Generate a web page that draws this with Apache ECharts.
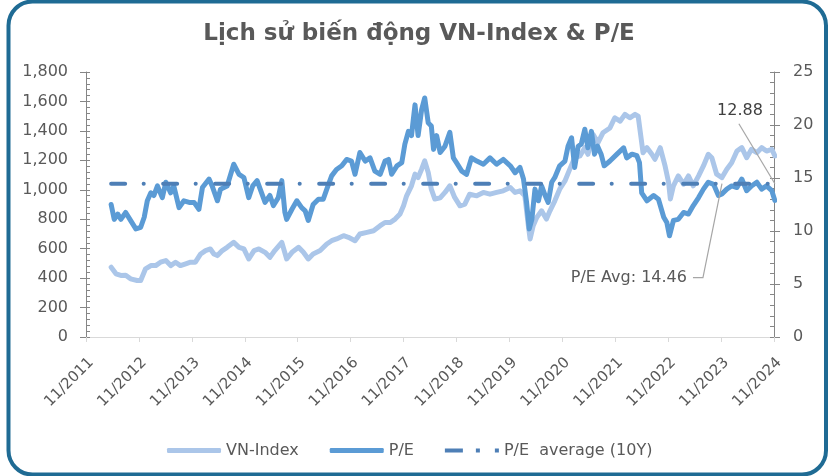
<!DOCTYPE html>
<html>
<head>
<meta charset="utf-8">
<title>Lịch sử biến động VN-Index & P/E</title>
<script src="https://cdn.jsdelivr.net/npm/echarts@6/dist/echarts.min.js"></script>
<style>
  html, body { margin: 0; padding: 0; background: #fff; }
  #chart { width: 838px; height: 476px; }
</style>
</head>
<body>
<div id="chart"></div>
<script>
/** 数据 */
// 横轴: 从 11/2011 起的月数
const xTickLabels = ['11/2011', '11/2012', '11/2013', '11/2014', '11/2015', '11/2016', '11/2017',
  '11/2018', '11/2019', '11/2020', '11/2021', '11/2022', '11/2023', '11/2024'];

const vnMonth = [5.7, 6.8, 7.9, 9.0, 10.1, 11.6, 12.4, 13.5, 14.7, 15.8, 16.9, 18.1, 19.2, 20.3, 21.4, 22.6,
  23.7, 24.8, 26.0, 27.1, 28.2, 29.0, 29.8, 30.9, 32.0, 33.5, 34.7, 35.8, 36.9, 38.1, 39.2, 40.6,
  41.7, 42.8, 44.4, 45.5, 46.7, 48.2, 49.3, 50.4, 51.5, 53.1, 54.6, 55.7, 56.8, 58.4, 59.5, 61.0,
  62.1, 63.7, 65.2, 66.7, 67.8, 69.0, 70.1, 71.2, 72.0, 72.7, 73.8, 74.6, 75.3, 76.1, 76.8, 77.6,
  78.3, 79.1, 80.3, 81.4, 82.5, 83.6, 84.8, 85.9, 87.0, 88.6, 90.1, 91.6, 93.1, 94.6, 96.2, 97.3,
  98.4, 99.5, 100.3, 100.7, 101.4, 102.2, 103.3, 104.4, 105.2, 106.3, 107.4, 108.6, 109.7, 110.8,
  112.0, 113.1, 113.8, 115.0, 116.1, 117.2, 118.8, 119.9, 121.1, 122.2, 123.3, 124.5, 125.2, 125.8,
  126.3, 127.2, 128.3, 129.0, 130.2, 131.3, 132.1, 132.5, 133.2, 134.3, 135.5, 136.6, 137.7, 138.9,
  140.0, 141.1, 141.9, 143.0, 144.2, 145.3, 146.4, 147.6, 148.7, 149.8, 150.9, 152.1, 153.2, 154.3,
  155.5, 156.2];
const vnValue = [474, 429, 418, 420, 395, 384, 384, 463, 485, 485, 508, 519, 485, 508, 485, 497,
  508, 508, 564, 587, 598, 564, 553, 587, 609, 643, 609, 598, 530, 587, 598, 575,
  541, 587, 643, 530, 575, 609, 575, 530, 564, 587, 632, 654, 666, 688, 677, 654,
  700, 711, 722, 756, 778, 778, 801, 835, 891, 959, 1027, 1106, 1083, 1140, 1196, 1117,
  1004, 937, 945, 982, 1027, 948, 891, 903, 970, 959, 982, 970, 982, 993, 1015, 982,
  993, 959, 756, 666, 756, 812, 857, 801, 857, 925, 1004, 1060, 1140, 1218,
  1230, 1286, 1241, 1376, 1320, 1387, 1420, 1489, 1466, 1512, 1489, 1512, 1500, 1365,
  1252, 1286, 1241, 1207, 1286, 1162, 1049, 937, 1027, 1094, 1038, 1094, 1027, 1094,
  1162, 1241, 1218, 1106, 1083, 1140, 1184, 1263, 1286, 1218, 1275, 1252, 1286, 1263,
  1275, 1230];

const peMonth = [5.7, 6.4, 7.2, 7.9, 9.0, 10.1, 11.3, 12.4, 13.2, 13.9, 14.7, 15.4, 16.2, 17.3, 18.1, 19.2,
  19.9, 21.1, 22.2, 23.4, 24.5, 25.6, 26.4, 27.9, 28.6, 29.8, 30.5, 32.0, 33.5, 34.7, 35.8, 36.9,
  37.8, 38.8, 39.5, 40.6, 41.7, 42.5, 43.6, 44.4, 45.1, 45.5, 46.7, 47.8, 48.9, 49.7, 50.4, 51.5,
  52.7, 53.8, 54.6, 55.7, 56.8, 58.0, 59.1, 60.2, 61.0, 62.1, 63.3, 64.4, 65.5, 66.7, 67.8, 68.6,
  69.3, 70.5, 71.6, 72.3, 73.1, 73.8, 74.6, 75.3, 76.1, 76.8, 77.6, 78.3, 78.8, 79.5, 80.3, 81.4,
  82.5, 83.3, 84.0, 85.2, 86.3, 87.4, 88.6, 90.1, 91.6, 93.1, 94.6, 96.2, 97.3, 98.4, 99.2, 99.9,
  100.5, 101.1, 101.8, 102.6, 103.3, 104.1, 104.8, 105.6, 106.3, 107.4, 108.6, 109.3, 110.1, 110.8,
  111.6, 112.3, 113.1, 113.8, 114.6, 115.3, 116.0, 116.8, 117.5, 118.8, 120.4, 121.9, 122.6, 123.8,
  124.9, 125.5, 126.0, 127.2, 128.7, 129.8, 131.0, 131.7, 132.3, 133.2, 134.3, 135.5, 136.6, 137.7,
  138.9, 140.0, 141.1, 142.3, 143.4, 144.2, 145.3, 146.4, 147.6, 148.7, 149.8, 150.9, 152.1, 153.2,
  154.3, 155.5, 156.2];
const peValue = [12.5, 11.1, 11.6, 11.1, 11.75, 11.0, 10.2, 10.35, 11.3, 12.85, 13.6, 13.35, 14.25, 13.15, 14.6, 13.6,
  14.25, 12.2, 12.85, 12.7, 12.7, 12.05, 14.1, 14.9, 14.25, 12.85, 13.95, 14.25, 16.3, 15.35, 15.05, 13.15,
  14.25, 14.75, 13.95, 12.7, 13.35, 12.4, 13.15, 14.75, 11.75, 11.1, 12.05, 12.85, 12.2, 11.9, 11.0, 12.5,
  13.0, 13.0, 13.95, 15.2, 15.8, 16.15, 16.75, 16.6, 15.35, 17.4, 16.6, 16.9, 15.65, 15.35, 16.6, 16.75,
  15.35, 16.15, 16.45, 18.2, 19.4, 19.0, 21.9, 19.0, 21.45, 22.55, 20.2, 19.9, 17.7, 19.0, 17.4, 18.0,
  19.3, 16.9, 16.45, 15.65, 15.35, 16.9, 16.6, 16.3, 16.9, 16.3, 16.75, 16.15, 15.5, 16.0, 14.9, 12.7,
  10.2, 11.1, 13.95, 12.85, 14.25, 13.35, 12.7, 14.6, 15.05, 16.15, 16.6, 18.0, 18.8, 16.0,
  18.0, 18.2, 19.6, 17.85, 19.4, 17.25, 18.0, 17.25, 16.15, 16.6, 17.25, 17.85, 16.9, 17.25,
  17.1, 16.45, 13.6, 12.85, 13.35, 13.0, 11.3, 10.8, 9.55, 11.0, 11.1, 11.75, 11.6, 12.4,
  13.15, 13.95, 14.6, 14.4, 13.35, 13.5, 13.95, 14.25, 14.1, 14.9, 13.8, 14.25, 14.6, 13.95,
  14.25, 13.8, 12.88];

const peAvg = 14.46;          // P/E trung bình 10 năm
const peAvgLabelMonth = 144.2; // điểm chú thích trên đường trung bình

/** 图表 */
const FONT = 'DejaVu Sans';
const TEXT_COLOR = '#595959';
const AXIS_COLOR = '#868686';
const VN_COLOR = '#abc6e9';
const PE_COLOR = '#5b9bd5';
const AVG_COLOR = '#4e7fb6';

const vnData = vnMonth.map((m, i) => [m, vnValue[i]]);
const peData = peMonth.map((m, i) => [m, peValue[i]]);
const avgData = [[peMonth[0], peAvg], [peMonth[peMonth.length - 1], peAvg]];

let myChart = echarts.init(document.getElementById('chart'), null, {renderer: 'canvas'});

// 左右轴的叠加轴: 主刻度向外 + 内侧短刻度与次刻度, 拼出穿过轴线的刻度
function overlayAxis(position, max, interval, split) {
  return {
    type: 'value', position: position, min: 0, max: max, interval: interval,
    axisLine: {show: false},
    axisLabel: {show: false},
    splitLine: {show: false},
    axisTick: {show: true, inside: true, length: 4, lineStyle: {color: AXIS_COLOR}},
    minorTick: {show: true, splitNumber: split, length: 4, lineStyle: {color: AXIS_COLOR}}
  };
}

let option = {
  backgroundColor: '#fff',
  animation: false,
  title: {
    text: 'Lịch sử biến động VN-Index & P/E',
    left: 'center',
    top: 18,
    textStyle: {fontFamily: FONT, fontSize: 23, fontWeight: 'bold', color: TEXT_COLOR}
  },
  legend: {
    left: 167,
    top: 442.5,
    padding: 0,
    itemWidth: 54,
    itemHeight: 5,
    itemGap: 31,
    textStyle: {fontFamily: FONT, fontSize: 16, color: TEXT_COLOR},
    data: [
      {name: 'VN-Index', icon: 'roundRect', itemStyle: {color: VN_COLOR}},
      {name: 'P/E', icon: 'roundRect', itemStyle: {color: PE_COLOR}},
      {name: 'P/E  average (10Y)', icon: 'path://M0,0h18v4h-18z M31,0h4v4h-4z M50,0h4v4h-4z', itemStyle: {color: AVG_COLOR}}
    ]
  },
  grid: {left: 86, right: 64, top: 72, bottom: 139, containLabel: false, outerBoundsMode: 'none'},
  xAxis: {
    type: 'value',
    min: 0,
    max: 156,
    interval: 12,
    axisLine: {show: true, lineStyle: {color: '#d9d9d9'}},
    axisTick: {show: true, length: 5, lineStyle: {color: '#d9d9d9'}},
    splitLine: {show: false},
    axisLabel: {
      rotate: 45,
      margin: 18,
      verticalAlign: 'top',
      fontFamily: FONT,
      fontSize: 15,
      color: TEXT_COLOR,
      formatter: (v) => xTickLabels[Math.round(v / 12)]
    }
  },
  yAxis: [
    {
      type: 'value', position: 'left', min: 0, max: 1800, interval: 200,
      axisLine: {show: true, lineStyle: {color: AXIS_COLOR}},
      axisTick: {show: true, length: 6, lineStyle: {color: AXIS_COLOR}},
      splitLine: {show: false},
      axisLabel: {
        margin: 18, fontFamily: FONT, fontSize: 16, color: TEXT_COLOR,
        formatter: (v) => v.toLocaleString('en-US')
      }
    },
    {
      type: 'value', position: 'right', min: 0, max: 25, interval: 5,
      axisLine: {show: true, lineStyle: {color: AXIS_COLOR}},
      axisTick: {show: true, length: 6, lineStyle: {color: AXIS_COLOR}},
      splitLine: {show: false},
      axisLabel: {margin: 19, fontFamily: FONT, fontSize: 16, color: TEXT_COLOR}
    },
    overlayAxis('left', 1800, 200, 5),
    overlayAxis('right', 25, 5, 5)
  ],
  series: [
    {
      name: 'VN-Index', type: 'line', yAxisIndex: 0, data: vnData,
      showSymbol: false, symbol: 'none', z: 2,
      lineStyle: {color: VN_COLOR, width: 5, cap: 'round', join: 'round'},
      itemStyle: {color: VN_COLOR}
    },
    {
      name: 'P/E', type: 'line', yAxisIndex: 1, data: peData,
      showSymbol: false, symbol: 'none', z: 3,
      lineStyle: {color: PE_COLOR, width: 5, cap: 'round', join: 'round'},
      itemStyle: {color: PE_COLOR}
    },
    {
      name: 'P/E  average (10Y)', type: 'line', yAxisIndex: 1, data: avgData,
      showSymbol: false, symbol: 'none', z: 4,
      lineStyle: {color: AVG_COLOR, width: 4, type: [14, 18.5, 0.1, 19.4], cap: 'round'},
      itemStyle: {color: AVG_COLOR}
    }
  ],
  graphic: [
    {
      id: 'frame', type: 'rect', z: 100, silent: true,
      shape: {x: 8.5, y: 1.5, width: 817.5, height: 473, r: 24},
      style: {fill: 'none', stroke: '#1f6b94', lineWidth: 4}
    }
  ]
};
myChart.setOption(option);

// 数据标签与引导线 (位置由坐标换算)
const lastPe = peData[peData.length - 1];
const endPt = myChart.convertToPixel({xAxisIndex: 0, yAxisIndex: 1}, [lastPe[0], peAvg]);
const avgPt = myChart.convertToPixel({xAxisIndex: 0, yAxisIndex: 1}, [peAvgLabelMonth, peAvg]);
myChart.setOption({
  graphic: [
    {
      id: 'lastLabel', type: 'text', z: 50,
      style: {
        text: lastPe[1].toFixed(2), x: endPt[0] - 12, y: endPt[1] - 73,
        align: 'right', verticalAlign: 'middle',
        font: '16px "DejaVu Sans"', fill: '#404040'
      }
    },
    {
      id: 'lastLeader', type: 'line', z: 50,
      shape: {x1: endPt[0] - 36, y1: endPt[1] - 60, x2: endPt[0], y2: endPt[1]},
      style: {stroke: '#a6a6a6', lineWidth: 1.2}
    },
    {
      id: 'avgLabel', type: 'text', z: 50,
      style: {
        text: 'P/E Avg: ' + peAvg.toFixed(2), x: avgPt[0] - 35, y: avgPt[1] + 94,
        align: 'right', verticalAlign: 'middle',
        font: '16px "DejaVu Sans"', fill: TEXT_COLOR
      }
    },
    {
      id: 'avgLeader', type: 'polyline', z: 50,
      shape: {points: [[avgPt[0] - 29, avgPt[1] + 94], [avgPt[0] - 19, avgPt[1] + 94], [avgPt[0], avgPt[1]]]},
      style: {stroke: '#a6a6a6', lineWidth: 1.2, fill: 'none'}
    }
  ]
});
</script>
</body>
</html>
